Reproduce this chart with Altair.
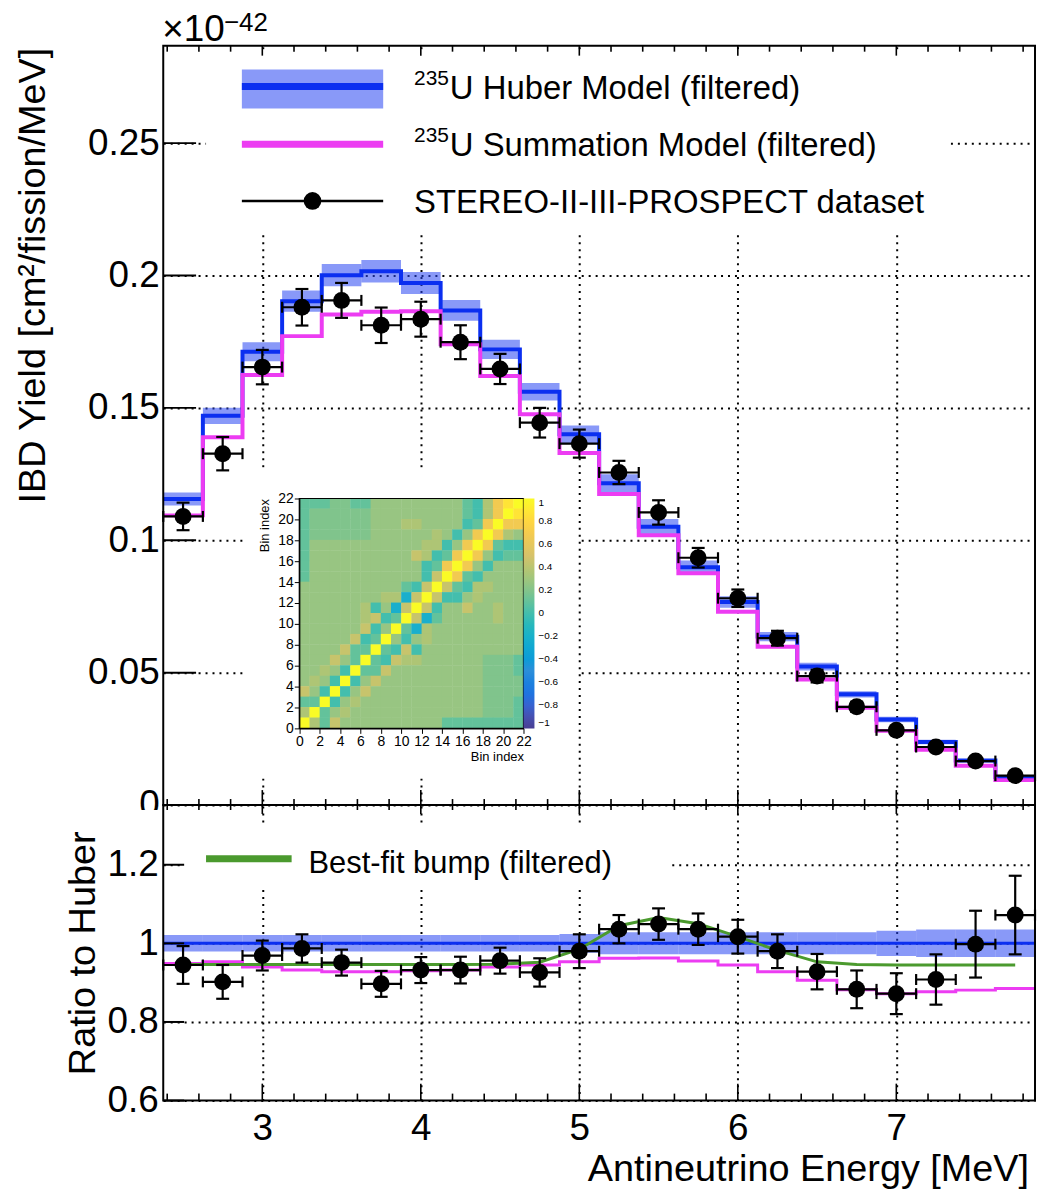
import altair as alt
import pandas as pd

# ---------------- values ----------------
energy = [2.5, 2.75, 3.0, 3.25, 3.5, 3.75, 4.0, 4.25, 4.5, 4.75, 5.0,
          5.25, 5.5, 5.75, 6.0, 6.25, 6.5, 6.75, 7.0, 7.25, 7.5, 7.75]
bin_half_width = 0.125

huber_yield = [0.1156, 0.1470, 0.1712, 0.1903, 0.2001, 0.2016, 0.1972, 0.1868, 0.1721, 0.1561, 0.1400,
               0.1215, 0.1051, 0.0898, 0.0767, 0.0636, 0.0523, 0.0418, 0.0323, 0.0238, 0.0168, 0.0106]
huber_rel_unc = [0.021, 0.021, 0.021, 0.021, 0.021, 0.021, 0.021, 0.021, 0.021, 0.021, 0.024,
                 0.028, 0.028, 0.028, 0.028, 0.028, 0.028, 0.028, 0.032, 0.035, 0.035, 0.035]
summation_yield = [0.1094, 0.1389, 0.1624, 0.1771, 0.1853, 0.1863, 0.1865, 0.1740, 0.1620, 0.1476, 0.1330,
                   0.1175, 0.1019, 0.0875, 0.0730, 0.0598, 0.0474, 0.0367, 0.0280, 0.0209, 0.0148, 0.0094]
data_yield = [0.1090, 0.1327, 0.1654, 0.1880, 0.1906, 0.1812, 0.1835, 0.1748, 0.1647, 0.1444, 0.1365,
              0.1256, 0.1105, 0.0934, 0.0781, 0.0630, 0.0487, 0.0371, 0.0282, 0.0219, 0.0166, 0.0111]
data_yield_err = [0.0052, 0.0063, 0.0065, 0.0069, 0.0066, 0.0067, 0.0066, 0.0064, 0.0057, 0.0056, 0.0053,
                  0.0044, 0.0046, 0.0037, 0.0033, 0.0028, 0.0024, 0.0019, 0.0016, 0.0015, 0.0014, 0.0011]

ratio_data = [0.945, 0.902, 0.969, 0.987, 0.951, 0.897, 0.932, 0.932, 0.956, 0.926, 0.980,
              1.036, 1.049, 1.036, 1.017, 0.980, 0.928, 0.883, 0.872, 0.908, 0.998, 1.072]
ratio_data_err = [0.048, 0.043, 0.038, 0.036, 0.033, 0.033, 0.033, 0.034, 0.033, 0.036, 0.043,
                  0.036, 0.040, 0.040, 0.043, 0.043, 0.045, 0.048, 0.052, 0.064, 0.085, 0.100]
ratio_summation = [0.949, 0.953, 0.940, 0.932, 0.928, 0.928, 0.930, 0.932, 0.940, 0.945, 0.953,
                   0.962, 0.963, 0.955, 0.945, 0.928, 0.906, 0.882, 0.872, 0.877, 0.881, 0.885]
ratio_huber_unc = [0.021, 0.021, 0.021, 0.021, 0.021, 0.021, 0.021, 0.021, 0.021, 0.021, 0.024,
                   0.028, 0.028, 0.028, 0.028, 0.028, 0.028, 0.028, 0.032, 0.035, 0.035, 0.035]
ratio_bump = [0.946, 0.946, 0.946, 0.946, 0.946, 0.946, 0.946, 0.946, 0.947, 0.952, 0.985,
              1.045, 1.066, 1.050, 1.017, 0.982, 0.953, 0.946, 0.945, 0.945, 0.945, 0.945]

# inset correlation matrix, rows from bin 21 (top) down to bin 0 (bottom)
corr_rows = [
    "CCCAACCBBBBBBBBBCKOGVY",
    "CAAAAAABBBBBBBBBCKOGYV",
    "CAAAAAABBBOOBBBBKCGYGG",
    "CAAAAAABBBBBBOBKBGYGOB",
    "CBBBBBBBBBBBOOKBGYGCKK",
    "CBBBBBBBBBBTOKCGYGBKCC",
    "CBBBBBBBBBBBKCGYGBKBBB",
    "CBBBBBBBBBBBKTYGCKBBBB",
    "BBBBBBBBBBCKTYTCKOOBBB",
    "BBBBBBBBOOLTYTKKBOBBBB",
    "BBBBBBOKBLTYTKBBTBBOBB",
    "BBBBBBOTKCYTLCBBBBBOBB",
    "BBBBBBTKBYCLOBBBBBBBBB",
    "BBBBBTKCYBKBOBBBBBBBBB",
    "BBBBTCCYCKTKBBBBBBBBBB",
    "BBBTBCYCKTOOBBBBBBAAAC",
    "BBOBKYCCTBBBBBBBBBAAAC",
    "BOBKYKBTBBBBBBBBBBAAAA",
    "TBKYKBTBBBBBBBBBBBAAAA",
    "CCYKBOBBBBBBBBBBBBAAAC",
    "OYCBOBBBBBBBBBBBBBAAAC",
    "YOCTBBBBBBBBBBCCCCCCCC",
]
corr_level = {"Y": 1.0, "V": 0.88, "G": 0.68, "T": 0.45, "O": 0.36, "B": 0.27,
              "A": 0.19, "C": 0.10, "K": 0.0, "L": -0.22}

x_major_ticks = [3, 4, 5, 6, 7]
x_minor_ticks = [2.4, 2.6, 2.8, 3.2, 3.4, 3.6, 3.8, 4.2, 4.4, 4.6, 4.8, 5.2, 5.4, 5.6, 5.8,
                 6.2, 6.4, 6.6, 6.8, 7.2, 7.4, 7.6, 7.8]
top_y_ticks = [0, 0.05, 0.1, 0.15, 0.2, 0.25]
bot_y_ticks = [0.6, 0.8, 1.0, 1.2]
bin_ticks = [0, 2, 4, 6, 8, 10, 12, 14, 16, 18, 20, 22]
cbar_ticks = [-1, -0.8, -0.6, -0.4, -0.2, 0, 0.2, 0.4, 0.6, 0.8, 1]
bird_stops = [-1, -0.75, -0.5, -0.25, 0, 0.25, 0.5, 0.75, 1]
bird_colors = ["#493f93", "#276ce0", "#2c8eda", "#1fadcf", "#43bead",
               "#93c585", "#d6c26a", "#fecd46", "#fafb26"]

# ---------------- styling / layout ----------------
FONT = "Liberation Sans"
BLUE = "#0b2ff0"
BAND = "#2846f2"
MAGENTA = "#ec3cf2"
GREEN = "#4b9a2e"
W, H, TOP_H = 876, 1060, 763
X_DOM = [2.375, 7.875]
CELL_OVERLAP = 0.04  # tiny overlap so no hairline seams appear between heat-map cells


def sx():
    return alt.Scale(domain=X_DOM, range=[0, W], nice=False, zero=False)


def st():
    return alt.Scale(domain=[0.0, 0.2868], range=[TOP_H, 0], nice=False, zero=False)


def sb():
    return alt.Scale(domain=[0.6, 1.352], range=[H, TOP_H], nice=False, zero=False)


def ex(f):
    return alt.X(f, type="quantitative", scale=sx(), axis=None)


def ty(f):
    return alt.Y(f, type="quantitative", scale=st(), axis=None)


def by(f):
    return alt.Y(f, type="quantitative", scale=sb(), axis=None)


df = pd.DataFrame({
    "E": energy, "huber": huber_yield, "hunc": huber_rel_unc, "summ": summation_yield,
    "y": data_yield, "ye": data_yield_err, "r": ratio_data, "re": ratio_data_err,
    "rsum": ratio_summation, "runc": ratio_huber_unc, "bump": ratio_bump,
})
df["lo"] = df["E"] - bin_half_width
df["hi"] = df["E"] + bin_half_width
df["band_lo"] = df["huber"] * (1 - df["hunc"])
df["band_hi"] = df["huber"] * (1 + df["hunc"])
df["y_lo"] = df["y"] - df["ye"]
df["y_hi"] = df["y"] + df["ye"]
df["r_lo"] = df["r"] - df["re"]
df["r_hi"] = df["r"] + df["re"]
df["rb_lo"] = 1 - df["runc"]
df["rb_hi"] = 1 + df["runc"]

edges = list(df["lo"]) + [float(df["hi"].iloc[-1])]
step = pd.DataFrame({
    "x": edges,
    "huber": huber_yield + huber_yield[-1:],
    "summ": summation_yield + summation_yield[-1:],
    "rsum": ratio_summation + ratio_summation[-1:],
    "one": [1.0] * len(edges),
})

cells = []
for k, row in enumerate(corr_rows):
    j = len(corr_rows) - 1 - k
    for i, code in enumerate(row):
        cells.append({"i": i, "i2": min(i + 1 + CELL_OVERLAP, 22), "j": j,
                      "j2": min(j + 1 + CELL_OVERLAP, 22), "v": corr_level[code]})
cells = pd.DataFrame(cells)

one = pd.DataFrame({"k": [0]})


def box(x, x2, y, y2, **kw):
    return alt.Chart(one).mark_rect(**kw).encode(
        x=alt.value(x), x2=alt.value(x2), y=alt.value(y), y2=alt.value(y2))


def hline(x, x2, y, color, width):
    return alt.Chart(one).mark_rule(color=color, strokeWidth=width).encode(
        x=alt.value(x), x2=alt.value(x2), y=alt.value(y))


def label(text, x, y, size, align="left", baseline="alphabetic", angle=0):
    return alt.Chart(one).mark_text(
        text=text, font=FONT, fontSize=size, align=align, baseline=baseline,
        angle=angle, color="black").encode(x=alt.value(x), y=alt.value(y))


def errbars(ycol, lo, hi, yfun, pt_size):
    base = alt.Chart(df)
    return [
        base.mark_rule(color="black", strokeWidth=2.2).encode(x=ex("E"), y=yfun(lo), y2=alt.Y2(hi)),
        base.mark_rule(color="black", strokeWidth=2.2).encode(x=ex("lo"), x2=alt.X2("hi"), y=yfun(ycol)),
        base.mark_tick(orient="horizontal", size=13, thickness=2.2, color="black", opacity=1).encode(
            x=ex("E"), y=yfun(lo)),
        base.mark_tick(orient="horizontal", size=13, thickness=2.2, color="black", opacity=1).encode(
            x=ex("E"), y=yfun(hi)),
        base.mark_tick(orient="vertical", size=11, thickness=2.2, color="black", opacity=1).encode(
            x=ex("lo"), y=yfun(ycol)),
        base.mark_tick(orient="vertical", size=11, thickness=2.2, color="black", opacity=1).encode(
            x=ex("hi"), y=yfun(ycol)),
        base.mark_circle(size=pt_size, color="black", opacity=1).encode(x=ex("E"), y=yfun(ycol)),
    ]


grid_kw = dict(grid=True, gridColor="black", gridDash=[2, 5], gridWidth=2, gridOpacity=1)

x_axis = alt.Axis(orient="bottom", values=x_major_ticks, format="d", labelFont=FONT, labelFontSize=37,
                  labelColor="black", labelPadding=10, tickSize=0, domain=False, labelFlush=False,
                  labelOverlap=False, title=None, **grid_kw)
top_y_axis = alt.Axis(orient="left", values=top_y_ticks, format="~g", labelFont=FONT, labelFontSize=37,
                      labelColor="black", labelPadding=4, tickSize=0, domain=False, title=None,
                      labelOverlap=False, **grid_kw)
bot_y_axis = alt.Axis(orient="left", values=bot_y_ticks, format="~g", labelFont=FONT, labelFontSize=37,
                      labelColor="black", labelPadding=5, tickSize=0, domain=False, title=None,
                      labelOverlap=False, **grid_kw)

inset_common = dict(values=bin_ticks, format="d", labelFont=FONT, labelFontSize=14, labelColor="black",
                    tickSize=5, tickColor="black", domainColor="black", domainWidth=1.2,
                    labelPadding=1, labelFlush=False, labelOverlap=False, grid=False,
                    title="Bin index", titleFont=FONT, titleFontSize=13, titleFontWeight="normal",
                    titleColor="black", titleAnchor="end", zindex=1)
inset_x_axis = alt.Axis(orient="bottom", offset=-374, titlePadding=2, **inset_common)
inset_y_axis = alt.Axis(orient="left", offset=-136.7, titlePadding=6, **inset_common)

cbar_legend = alt.Legend(type="gradient", orient="none", legendX=362, legendY=455, direction="vertical",
                         gradientLength=231, gradientThickness=11, gradientStrokeWidth=0,
                         values=cbar_ticks, format="~g", labelFont=FONT, labelFontSize=10,
                         labelColor="black", labelOverlap=False, labelOffset=4, title=None, padding=0)

tmaj = pd.DataFrame({"v": x_major_ticks})
tmin = pd.DataFrame({"v": x_minor_ticks})


def xticks(data, y0, y1, axis=None):
    return alt.Chart(data).mark_rule(color="black", strokeWidth=1.6).encode(
        x=alt.X("v:Q", scale=sx(), axis=axis), y=alt.value(y0), y2=alt.value(y1))


layers = []

# white pads (legend boxes, inset pad, lower half of the hidden "0")
layers += [
    box(43, 791, 4, 187, color="white"),
    box(20, 511, 783, 848, color="white"),
    box(81, 416, 424, 732, color="white"),
    box(-62, -1, 768, 800, color="white"),
]

# ---- top panel ----
layers += [
    alt.Chart(df).mark_rect(color=BAND, opacity=0.55).encode(
        x=ex("lo"), x2=alt.X2("hi"), y=ty("band_lo"), y2=alt.Y2("band_hi")),
    alt.Chart(step).mark_line(interpolate="step-after", color=BLUE, strokeWidth=4).encode(
        x=ex("x"), y=ty("huber")),
    alt.Chart(step).mark_line(interpolate="step-after", color=MAGENTA, strokeWidth=4).encode(
        x=ex("x"), y=ty("summ")),
]
layers += errbars("y", "y_lo", "y_hi", ty, 290)

# ---- ratio panel ----
layers += [
    alt.Chart(df).mark_rect(color=BAND, opacity=0.55).encode(
        x=ex("lo"), x2=alt.X2("hi"), y=by("rb_lo"), y2=alt.Y2("rb_hi")),
    alt.Chart(step).mark_line(interpolate="step-after", color=BLUE, strokeWidth=3).encode(
        x=ex("x"), y=by("one")),
    alt.Chart(step).mark_line(interpolate="step-after", color=MAGENTA, strokeWidth=3).encode(
        x=ex("x"), y=by("rsum")),
    alt.Chart(df).mark_line(color=GREEN, strokeWidth=3).encode(x=ex("E"), y=by("bump")),
]
layers += errbars("r", "r_lo", "r_hi", by, 290)

# ---- inset correlation matrix ----
layers += [
    alt.Chart(cells).mark_rect().encode(
        x=alt.X("i:Q", scale=alt.Scale(domain=[0, 22], range=[136.7, 362.0], nice=False, zero=False),
                axis=inset_x_axis),
        x2=alt.X2("i2"),
        y=alt.Y("j:Q", scale=alt.Scale(domain=[0, 22], range=[686.0, 455.0], nice=False, zero=False),
                axis=inset_y_axis),
        y2=alt.Y2("j2"),
        color=alt.Color("v:Q", scale=alt.Scale(type="linear", domain=bird_stops, range=bird_colors),
                        legend=cbar_legend),
    ),
    box(136.7, 362, 455, 686, fill="white", fillOpacity=0, stroke="black", strokeWidth=1.2),
]

# ---- frames and ticks ----
layers += [
    box(0, W, 0, TOP_H, fill="white", fillOpacity=0, stroke="black", strokeWidth=2),
    box(0, W, TOP_H, H, fill="white", fillOpacity=0, stroke="black", strokeWidth=2),
    xticks(tmaj, 0, 10), xticks(tmin, 0, 6),
    xticks(tmaj, TOP_H - 15, TOP_H), xticks(tmin, TOP_H - 6, TOP_H),
    xticks(tmaj, TOP_H, TOP_H + 9), xticks(tmin, TOP_H, TOP_H + 5),
    xticks(tmaj, H - 17, H, axis=x_axis), xticks(tmin, H - 7, H),
    alt.Chart(pd.DataFrame({"v": top_y_ticks})).mark_rule(color="black", strokeWidth=2).encode(
        y=alt.Y("v:Q", scale=st(), axis=top_y_axis), x=alt.value(0), x2=alt.value(33)),
    alt.Chart(pd.DataFrame({"v": bot_y_ticks})).mark_rule(color="black", strokeWidth=2).encode(
        y=alt.Y("v:Q", scale=sb(), axis=bot_y_axis), x=alt.value(0), x2=alt.value(21)),
]

# ---- legends ----
layers += [
    box(79, 221, 24, 63, color=BAND, opacity=0.55),
    hline(79, 221, 41, BLUE, 7),
    hline(79, 221, 99, MAGENTA, 7),
    hline(79, 221, 156, "black", 2.5),
    alt.Chart(one).mark_circle(size=314, color="black", opacity=1).encode(x=alt.value(150), y=alt.value(156)),
    label("235", 252, 39, 21),
    label("U Huber Model (filtered)", 288, 54, 33),
    label("235", 252, 97, 21),
    label("U Summation Model (filtered)", 288, 111, 33),
    label("STEREO-II-III-PROSPECT dataset", 252, 168, 33),
    hline(43, 129, 817, GREEN, 7),
    label("Best-fit bump (filtered)", 146, 831, 31),
]

# ---- titles ----
layers += [
    label("IBD Yield [cm\u00b2/fission/MeV]", -119, 2, 38, align="right", angle=270),
    label("Ratio to Huber", -69, 912, 38, align="center", angle=270),
    label("Antineutrino Energy [MeV]", 870, 1141, 38, align="right"),
    label("\u00d710", -1, -5, 37),
    label("\u221242", 61, -15, 26),
]

chart = alt.layer(*layers).resolve_scale(
    x="independent", y="independent", color="independent"
).resolve_axis(
    x="independent", y="independent"
).properties(
    width=W, height=H,
    padding={"left": 156, "top": 35, "right": 2, "bottom": 90},
    autosize=alt.AutoSizeParams(type="none"),
).configure_view(strokeOpacity=0)

chart.save("out.html", embed_options={"renderer": "svg", "actions": False})
